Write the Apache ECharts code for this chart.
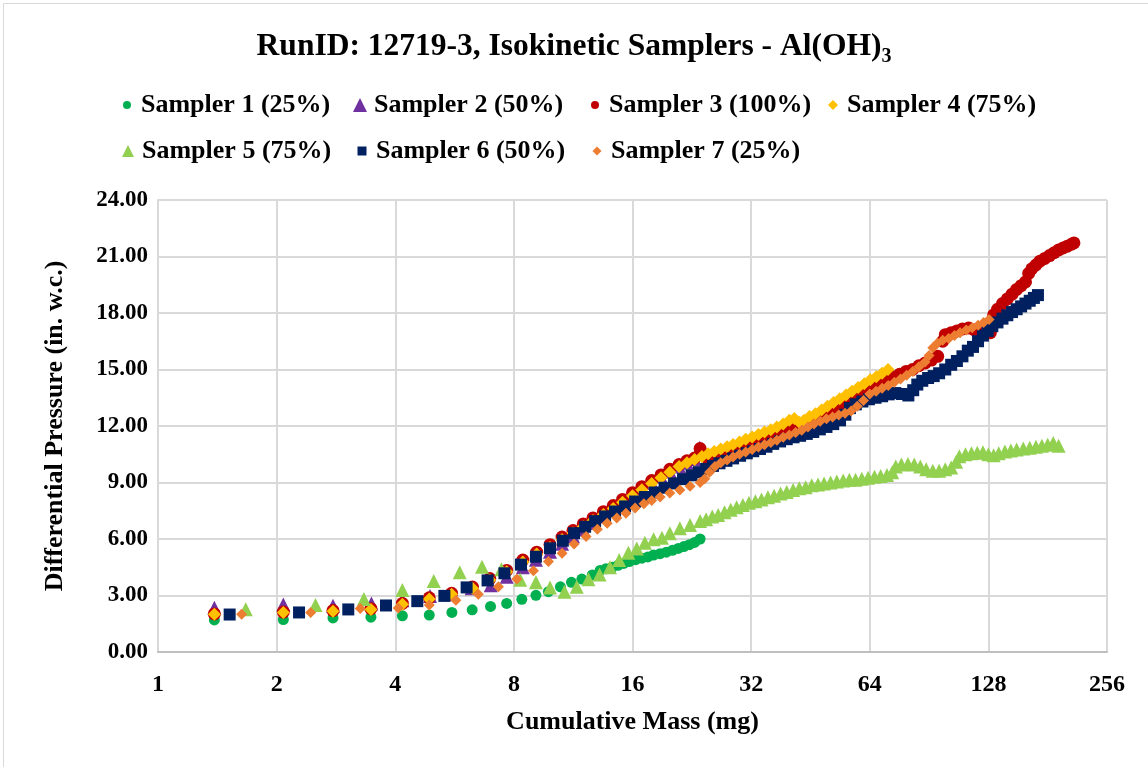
<!DOCTYPE html>
<html><head><meta charset="utf-8">
<script src="https://cdn.jsdelivr.net/npm/echarts@6/dist/echarts.min.js"></script>
<style>html,body{margin:0;padding:0;background:#fff}#c{width:1148px;height:767px}</style>
</head><body><div id="c"></div>
<script>
const titleMain = 'RunID: 12719-3, Isokinetic Samplers - Al(OH)';
const titleSub = '3';
const xName = 'Cumulative Mass (mg)';
const yName = 'Differential Pressure (in. w.c.)';
const seriesNames = ['Sampler 1 (25%)','Sampler 2 (50%)','Sampler 3 (100%)','Sampler 4 (75%)','Sampler 5 (75%)','Sampler 6 (50%)','Sampler 7 (25%)'];
const xMin = 1, xMax = 256, xBase = 2;
const yMin = 0, yMax = 24, yStep = 3;

const sampler1 = [[1.39,1.7],[2.08,1.72],[2.78,1.81],[3.47,1.85],[4.17,1.92],[4.88,1.96],[5.57,2.1],[6.27,2.24],[6.98,2.42],[7.67,2.58],[8.38,2.8],[9.1,3.01],[9.79,3.2],[10.5,3.46],[11.2,3.7],[11.9,3.87],[12.65,4.09],[13.24,4.33],[13.7,4.42],[14.2,4.5],[14.7,4.6],[15.2,4.7],[15.7,4.8],[16.3,4.9],[16.9,4.98],[17.5,5.05],[18.1,5.15],[18.8,5.22],[19.5,5.3],[20.2,5.4],[20.9,5.5],[21.6,5.6],[22.3,5.7],[23.0,5.82],[23.75,6.0]];

const sampler2 = [[1.39,2.35],[2.08,2.52],[2.78,2.45],[3.48,2.58],[4.17,2.75],[4.9,2.97],[5.56,3.07],[6.25,3.38],[6.99,3.55],[7.67,4.0],[8.43,4.5],[9.1,4.9],[9.88,5.32],[10.6,5.75],[11.3,6.15],[12.0,6.5],[12.7,6.85],[13.5,7.2],[14.3,7.55],[15.1,7.9],[16.0,8.28],[16.9,8.62],[17.9,8.98],[18.9,9.3],[19.9,9.58],[21.0,9.85],[22.0,10.05],[23.0,10.25],[23.7,10.85]];

const sampler3 = [[1.39,2.02],[2.08,2.12],[2.78,2.2],[3.47,2.3],[4.17,2.58],[4.88,2.88],[5.56,3.12],[6.28,3.45],[6.95,3.9],[7.67,4.33],[8.43,4.88],[9.14,5.3],[9.88,5.7],[10.6,6.1],[11.3,6.45],[12.0,6.8],[12.7,7.12],[13.5,7.45],[14.3,7.78],[15.1,8.1],[16.0,8.45],[16.9,8.78],[17.9,9.1],[18.9,9.4],[19.9,9.7],[21.0,9.95],[22.0,10.15],[23.0,10.3],[23.75,10.8],[24.6,10.35],[25.5,10.45],[26.4,10.55],[27.4,10.65],[28.4,10.75],[29.4,10.85],[30.5,10.95],[31.6,11.05],[32.8,11.15],[34.0,11.28],[35.3,11.4],[36.6,11.55],[38.0,11.7],[39.4,11.8],[40.9,11.9],[42.4,12.0],[44.0,12.15],[45.6,12.3],[47.3,12.45],[49.0,12.6],[50.9,12.75],[52.8,12.9],[54.8,13.05],[56.8,13.25],[58.9,13.45],[61.1,13.7],[63.4,13.95],[65.8,14.15],[68.2,14.35],[70.8,14.5],[73.5,14.6],[76.3,14.75],[79.2,14.9],[82.2,15.0],[85.3,15.2],[88.5,15.35],[91.8,15.5],[95.2,15.7],[98.0,16.5],[99.5,16.85],[103.0,16.95],[106.5,17.05],[110.0,17.15],[114.0,17.2],[118.0,17.1],[122.0,17.0],[126.0,16.95],[129.5,16.95],[132.0,17.9],[135.0,18.2],[139.0,18.5],[143.0,18.75],[147.0,19.0],[151.0,19.25],[155.0,19.45],[159.0,19.65],[162.0,20.1],[165.0,20.35],[169.0,20.55],[173.0,20.75],[178.0,20.9],[183.0,21.05],[188.0,21.2],[193.0,21.35],[198.0,21.45],[203.0,21.55],[208.0,21.65],[211.0,21.72]];

const sampler4 = [[1.39,2.0],[2.08,2.1],[2.78,2.17],[3.47,2.26],[4.17,2.54],[4.88,2.82],[5.56,3.07],[6.28,3.38],[6.95,3.82],[7.67,4.26],[8.43,4.78],[9.14,5.2],[9.88,5.55],[10.6,5.98],[11.3,6.32],[12.0,6.65],[12.7,6.98],[13.5,7.3],[14.3,7.62],[15.1,7.95],[16.0,8.3],[16.9,8.62],[17.9,8.95],[18.9,9.25],[19.9,9.55],[21.0,9.85],[22.0,10.05],[23.0,10.22],[24.0,10.38],[24.9,10.52],[25.8,10.65],[26.8,10.78],[27.8,10.9],[28.8,11.02],[29.9,11.15],[31.0,11.3],[32.2,11.42],[33.4,11.55],[34.6,11.68],[35.9,11.8],[37.2,11.95],[38.6,12.1],[40.0,12.3],[41.2,12.4],[42.4,12.2],[43.6,12.3],[45.0,12.5],[46.6,12.65],[48.3,12.85],[50.0,13.05],[51.8,13.25],[53.7,13.45],[55.7,13.65],[57.7,13.85],[59.8,14.05],[62.0,14.25],[64.2,14.45],[66.5,14.62],[68.8,14.8],[71.2,15.0]];

const sampler5 = [[1.67,2.27],[2.51,2.49],[3.33,2.81],[4.17,3.29],[5.01,3.77],[5.83,4.23],[6.64,4.53],[7.44,4.39],[8.3,3.84],[9.1,3.7],[9.88,3.43],[10.75,3.2],[11.55,3.46],[12.37,3.86],[13.2,4.12],[14.03,4.5],[14.8,4.89],[15.62,5.27],[16.4,5.5],[17.2,5.8],[18.1,5.99],[19.0,6.07],[19.9,6.3],[21.1,6.57],[22.4,6.75],[23.75,6.96],[24.6,7.05],[25.5,7.2],[26.4,7.28],[27.4,7.42],[28.4,7.55],[29.4,7.68],[30.5,7.8],[31.6,7.92],[32.8,8.0],[34.0,8.1],[35.3,8.22],[36.6,8.3],[38.0,8.42],[39.4,8.5],[40.9,8.6],[42.4,8.7],[44.0,8.75],[45.6,8.85],[47.3,8.9],[49.0,8.95],[50.9,9.0],[52.8,9.05],[54.8,9.1],[56.8,9.15],[58.9,9.15],[61.1,9.2],[63.4,9.25],[65.8,9.3],[68.2,9.35],[70.8,9.4],[73.0,9.55],[74.5,9.85],[77.0,9.95],[80.0,9.98],[83.0,9.95],[86.0,9.85],[89.0,9.7],[92.5,9.62],[96.0,9.62],[99.5,9.7],[103.0,9.8],[106.0,10.1],[108.0,10.4],[112.0,10.5],[116.0,10.55],[120.0,10.58],[124.0,10.6],[128.0,10.5],[132.0,10.45],[136.0,10.55],[141.0,10.65],[146.0,10.7],[151.0,10.75],[157.0,10.8],[163.0,10.85],[169.0,10.9],[175.0,10.95],[181.0,11.0],[187.0,11.1],[193.0,10.95]];

const sampler6 = [[1.52,1.99],[2.28,2.1],[3.04,2.26],[3.79,2.47],[4.55,2.7],[5.33,2.98],[6.07,3.43],[6.86,3.8],[7.57,4.18],[8.34,4.64],[9.1,5.06],[9.88,5.51],[10.65,5.91],[11.37,6.31],[12.13,6.65],[12.86,6.95],[13.63,7.2],[14.45,7.46],[15.32,7.73],[16.25,7.99],[17.2,8.23],[18.25,8.47],[19.3,8.72],[20.4,8.95],[21.5,9.18],[22.6,9.38],[23.6,9.55],[24.6,9.72],[25.6,9.88],[26.6,10.02],[27.7,10.15],[28.8,10.28],[30.0,10.42],[31.2,10.55],[32.4,10.66],[33.7,10.78],[35.0,10.9],[36.4,11.05],[37.9,11.18],[39.4,11.3],[41.0,11.4],[42.6,11.48],[44.3,11.58],[46.0,11.68],[47.8,11.82],[49.7,11.95],[51.7,12.1],[53.8,12.3],[55.5,12.6],[57.0,12.95],[59.0,13.15],[61.3,13.3],[63.7,13.42],[66.2,13.5],[68.8,13.58],[71.5,13.68],[74.3,13.75],[77.2,13.7],[80.2,13.62],[82.5,13.9],[84.5,14.2],[87.0,14.4],[90.0,14.55],[93.0,14.65],[96.0,14.8],[99.5,15.0],[103.0,15.25],[106.5,15.45],[110.0,15.7],[113.5,16.0],[117.0,16.2],[120.5,16.5],[124.0,16.8],[127.5,17.05],[131.0,17.3],[135.0,17.5],[139.0,17.7],[143.0,17.88],[147.0,18.05],[151.0,18.2],[155.0,18.35],[159.0,18.5],[163.0,18.65],[167.0,18.8],[171.0,18.95]];

const sampler7 = [[1.63,2.0],[2.44,2.1],[3.26,2.31],[4.07,2.34],[4.88,2.49],[5.7,2.75],[6.5,3.07],[7.31,3.46],[8.14,3.87],[8.97,4.31],[9.79,4.8],[10.6,5.24],[11.37,5.74],[12.2,6.13],[13.03,6.52],[13.8,6.84],[14.6,7.11],[15.4,7.37],[16.25,7.64],[17.1,7.87],[17.9,8.04],[18.8,8.23],[19.9,8.44],[21.1,8.6],[22.4,8.8],[23.75,9.0],[24.4,9.2],[25.1,9.55],[25.9,9.85],[26.8,10.05],[27.8,10.2],[28.8,10.35],[29.9,10.5],[31.0,10.62],[32.2,10.75],[33.4,10.88],[34.6,11.0],[35.9,11.12],[37.2,11.25],[38.6,11.4],[40.0,11.52],[41.5,11.65],[43.0,11.78],[44.6,11.95],[46.2,12.1],[47.9,12.25],[49.7,12.38],[51.5,12.48],[53.4,12.58],[55.4,12.68],[57.4,12.8],[59.5,13.05],[61.7,13.35],[64.0,13.7],[66.4,13.85],[68.8,14.0],[71.3,14.15],[73.9,14.32],[76.6,14.5],[79.4,14.7],[82.3,14.9],[85.3,15.15],[88.4,15.4],[90.5,15.75],[92.5,16.15],[95.0,16.4],[98.0,16.55],[101.5,16.65],[105.0,16.8],[108.5,16.95],[112.5,17.1],[116.5,17.22],[120.5,17.35],[124.5,17.5],[128.5,17.65]];

const FONT = "'Liberation Serif', 'Times New Roman', serif";
const colors = ['#00B050','#7030A0','#C00000','#FFC000','#92D050','#002060','#ED7D31'];
const symbols = ['circle','triangle','circle','diamond','triangle','rect','diamond'];
const symbolSizes = [11, 14, 13, 13, 14, 12, 11];
const datasets = [sampler1, sampler2, sampler3, sampler4, sampler5, sampler6, sampler7];

// legend placement (icon centre x, row centre y, icon size)
const legendPos = [[127,106,8],[360,106,14],[595,106,8],[833,106,10],[128,152,12],[362,152,9],[597,152,9]];

const legends = seriesNames.map((n, i) => {
  const s = legendPos[i][2];
  return {
    data: [{ name: n, icon: symbols[i] }],
    left: legendPos[i][0] - s / 2,
    top: legendPos[i][1] - 14,
    padding: 0,
    itemWidth: s,
    itemHeight: s,
    selectedMode: false,
    textStyle: { fontFamily: FONT, fontWeight: 'bold', fontSize: 26, color: '#000', padding: [0, 0, 0, Math.max(0, 14 - s / 2 - 5)] }
  };
});

const chart = echarts.init(document.getElementById('c'), null, { renderer: 'canvas' });
chart.setOption({
  animation: false,
  backgroundColor: '#fff',
  title: {
    text: titleMain + '{sub|' + titleSub + '}',
    left: 'center',
    top: 22,
    padding: [5, 5, 5, 17],
    textStyle: {
      fontFamily: FONT, fontWeight: 'bold', fontSize: 31.5, color: '#000', lineHeight: 40,
      rich: { sub: { fontFamily: FONT, fontWeight: 'bold', fontSize: 20, color: '#000', lineHeight: 20, verticalAlign: 'bottom' } }
    }
  },
  legend: legends,
  graphic: [{ type: 'rect', left: 1, top: 1, shape: { width: 1145, height: 764 }, style: { fill: 'none', stroke: '#D9D9D9', lineWidth: 1 }, silent: true }],
  grid: { left: 158, right: 41, top: 200, bottom: 115, containLabel: false, outerBoundsMode: 'none' },
  xAxis: {
    type: 'log', logBase: xBase, min: xMin, max: xMax, splitNumber: 8,
    name: xName, nameLocation: 'middle', nameGap: 57,
    nameTextStyle: { fontFamily: FONT, fontWeight: 'bold', fontSize: 26, color: '#000' },
    axisLine: { show: true, lineStyle: { color: '#BFBFBF', width: 2 } },
    axisTick: { show: false },
    axisLabel: { fontFamily: FONT, fontWeight: 'bold', fontSize: 24, color: '#000', margin: 21 },
    splitLine: { show: true, lineStyle: { color: '#D9D9D9', width: 2 } },
    minorTick: { show: false }
  },
  yAxis: {
    type: 'value', min: yMin, max: yMax, interval: yStep,
    name: yName, nameLocation: 'middle', nameGap: 90,
    nameTextStyle: { fontFamily: FONT, fontWeight: 'bold', fontSize: 26, color: '#000' },
    axisLine: { show: true, lineStyle: { color: '#D9D9D9', width: 2 } },
    axisTick: { show: false },
    axisLabel: { fontFamily: FONT, fontWeight: 'bold', fontSize: 23, color: '#000', margin: 10, formatter: v => v.toFixed(2) },
    splitLine: { show: true, lineStyle: { color: '#D9D9D9', width: 2 } }
  },
  series: seriesNames.map((n, i) => ({
    name: n, type: 'scatter', data: datasets[i],
    symbol: symbols[i], symbolSize: symbolSizes[i],
    itemStyle: { color: colors[i], opacity: 1 },
    emphasis: { disabled: true }
  }))
});
</script></body></html>
